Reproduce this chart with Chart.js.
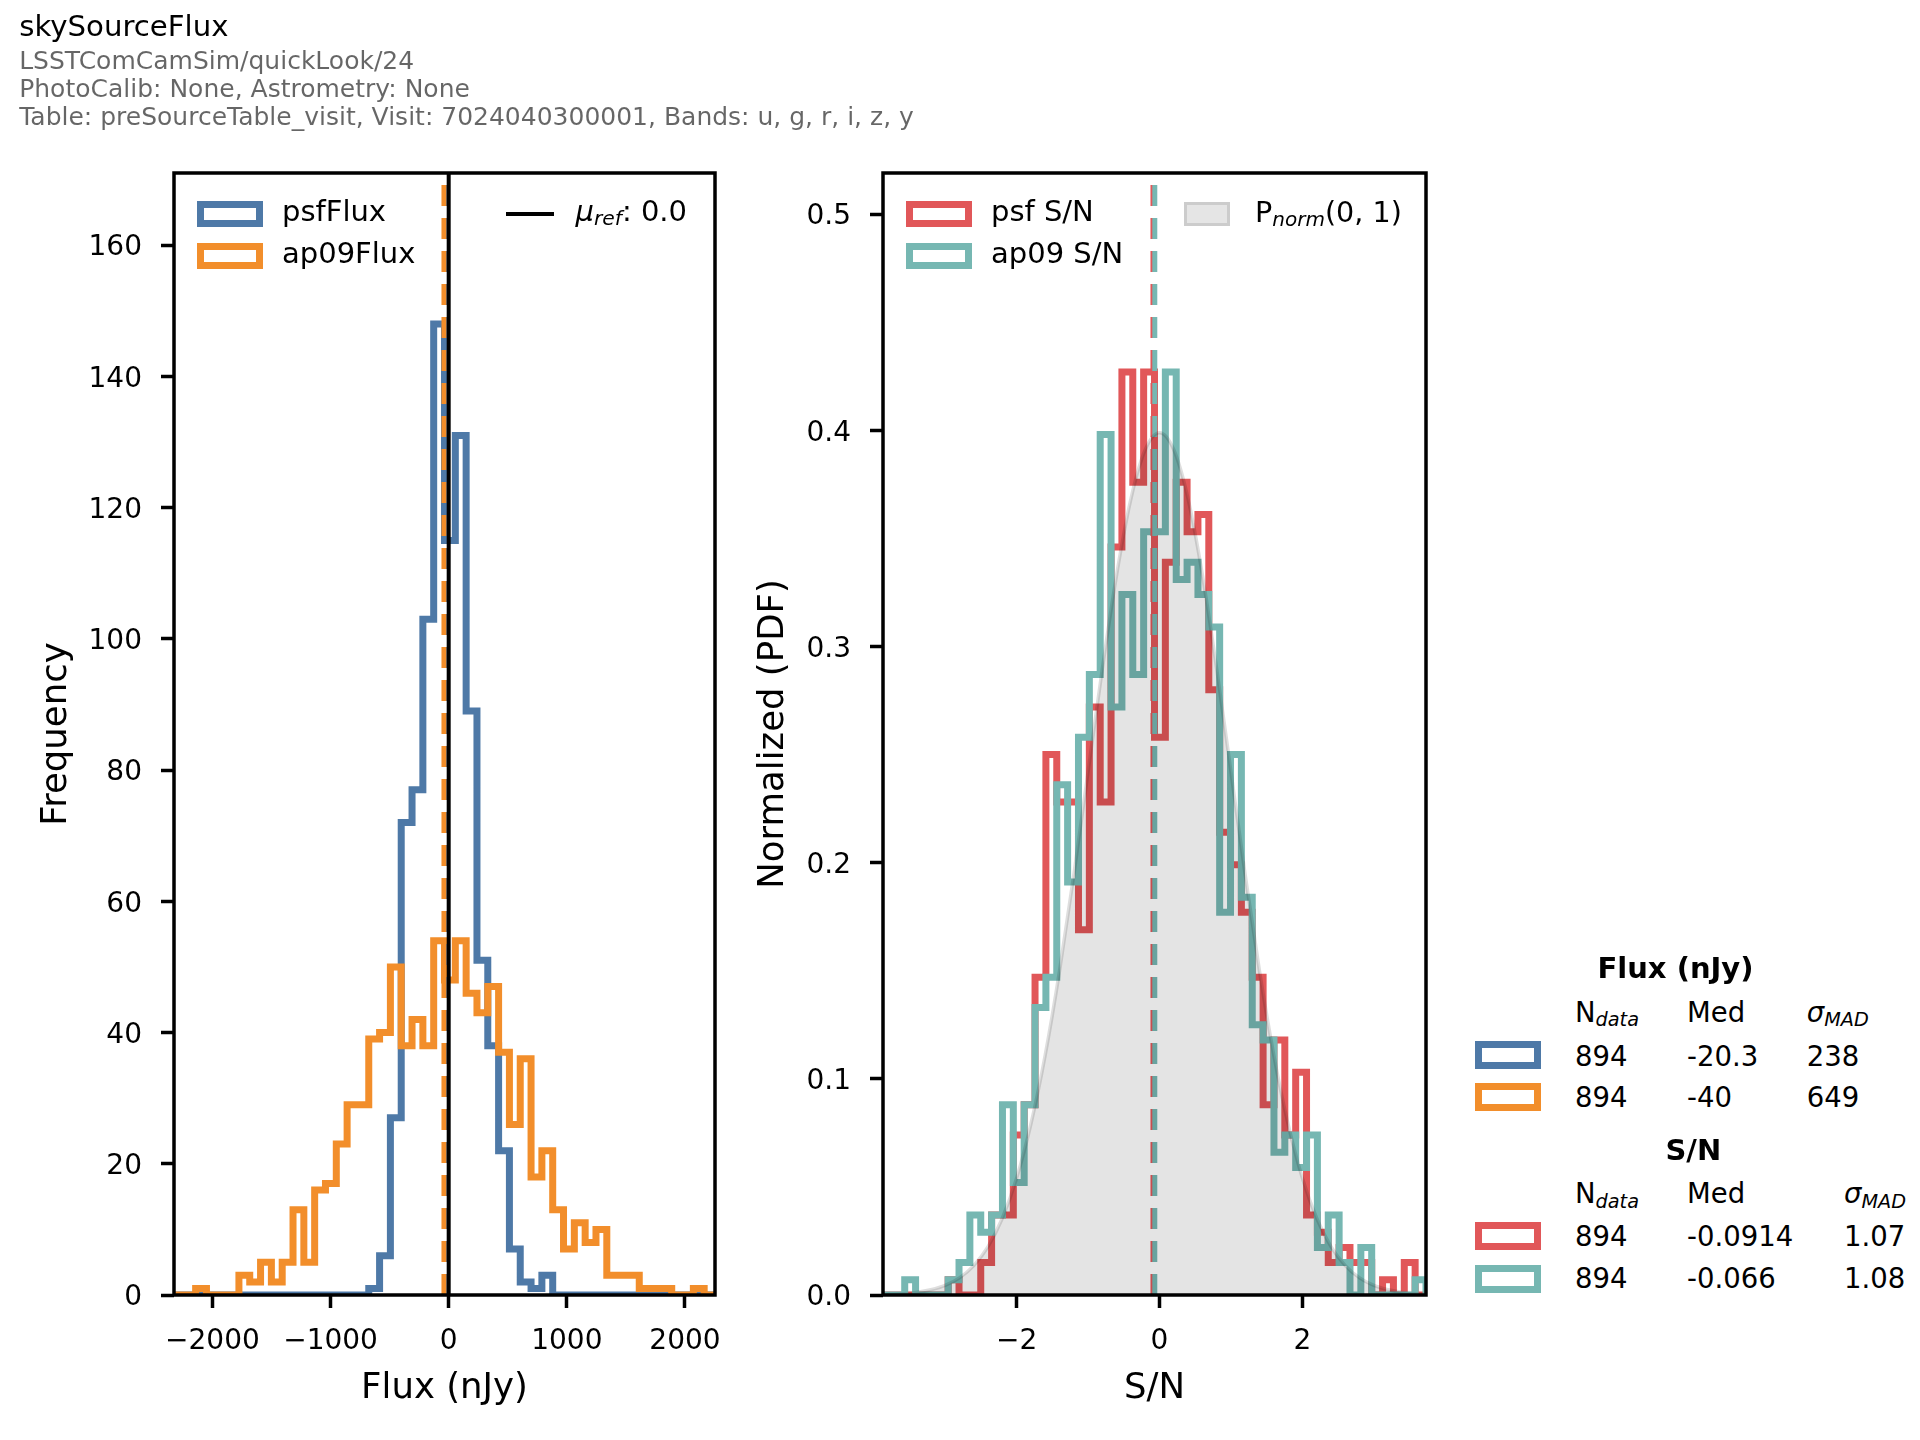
<!DOCTYPE html>
<html>
<head>
<meta charset="utf-8">
<script src="https://cdn.jsdelivr.net/npm/chart.js@4.4.1/dist/chart.umd.min.js"></script>
<style>
html,body{margin:0;padding:0;background:#fff;}
#page{position:relative;width:1920px;height:1440px;overflow:hidden;background:#fff;font-family:"DejaVu Sans",sans-serif;}
.cv{position:absolute;top:0;}
.t{position:absolute;white-space:nowrap;color:#000;font-family:"DejaVu Sans",sans-serif;z-index:5;}
.sw{position:absolute;box-sizing:border-box;background:#fff;z-index:5;}
.sub{font-size:0.7em;font-style:italic;position:relative;top:0.22em;}
.it{font-style:italic;}
</style>
</head>
<body>
<div id="page">
  <div class="cv" style="left:0;width:740px;height:1440px;"><canvas id="fluxCanvas" width="740" height="1440"></canvas></div>
  <div class="cv" style="left:730px;width:730px;height:1440px;"><canvas id="snCanvas" width="730" height="1440"></canvas></div>
</div>
<script>
// ---------------- data ----------------
const fluxRange = [-2325, 2254];          // nJy, histogram range = x axis range
const snRange = [-3.87, 3.73];            // S/N, histogram range = x axis range
const nBins = 50;

const psfFluxCounts = [0,0,0,0,0,0,0,0,0,0, 0,0,0,0,0,0,0,0,1,6, 27,72,77,103,148,115,131,89,51,38, 22,7,2,1,3,0,0,0,0,0, 0,0,0,0,0,0,0,0,0,0];
const ap09FluxCounts = [0,0,1,0,0,0,3,2,5,2, 5,13,5,16,17,23,29,29,39,40, 50,38,42,38,54,48,54,46,43,47, 37,26,36,18,22,13,7,11,8,10, 3,3,3,1,1,1,0,0,1,0];

const psfSNDensity = [0,0,0,0,0,0,0.007,0,0,0.015, 0.037,0.037,0.074,0.088,0.147,0.250,0.228,0.228,0.169,0.272, 0.228,0.346,0.427,0.376,0.427,0.258,0.339,0.376,0.353,0.361, 0.280,0.214,0.199,0.177,0.147,0.088,0.118,0.074,0.103,0.037, 0.029,0.015,0.022,0.015,0.015,0,0.007,0,0.015,0];
const ap09SNDensity = [0,0,0.007,0,0,0,0.007,0.015,0.037,0.029, 0.037,0.088,0.052,0.088,0.133,0.147,0.236,0.191,0.258,0.287, 0.398,0.272,0.324,0.287,0.353,0.353,0.427,0.331,0.339,0.324, 0.309,0.177,0.250,0.184,0.125,0.118,0.066,0.074,0.059,0.074, 0.022,0.037,0.015,0,0.022,0,0,0,0,0.007];

const fluxMedians = [-20.3, -40];         // psfFlux, ap09Flux
const fluxRef = 0.0;
const snMedians = [-0.0914, -0.066];      // psf S/N, ap09 S/N

const pnormX = [-3.87,-3.6,-3.4,-3.2,-3.0,-2.8,-2.6,-2.4,-2.2,-2.0,-1.8,-1.6,-1.4,-1.2,-1.0,-0.8,-0.6,-0.4,-0.2,0,0.2,0.4,0.6,0.8,1.0,1.2,1.4,1.6,1.8,2.0,2.2,2.4,2.6,2.8,3.0,3.2,3.4,3.6,3.73];
const pnormY = [0.0002,0.0006,0.0012,0.0024,0.0044,0.0079,0.0136,0.0224,0.0355,0.0540,0.0790,0.1109,0.1497,0.1942,0.2420,0.2897,0.3332,0.3683,0.3910,0.3989,0.3910,0.3683,0.3332,0.2897,0.2420,0.1942,0.1497,0.1109,0.0790,0.0540,0.0355,0.0224,0.0136,0.0079,0.0044,0.0024,0.0012,0.0006,0.0004];

const fluxXTicks = [-2000,-1000,0,1000,2000];
const fluxYTicks = [0,20,40,60,80,100,120,140,160];
const fluxYMax = 171;
const snXTicks = [-2,0,2];
const snYTicks = [0,0.1,0.2,0.3,0.4,0.5];
const snYMax = 0.519;

const statsFlux = [["894","-20.3","238"],["894","-40","649"]];
const statsSN = [["894","-0.0914","1.07"],["894","-0.066","1.08"]];

// ---------------- style ----------------
const C = {blue:'#4e79a7', orange:'#f28e2b', red:'#e15759', teal:'#76b7b2'};
const FONT = '"DejaVu Sans", sans-serif';
const HW = 7;   // histogram line width

function binEdges(range, n){ const w=(range[1]-range[0])/n; const e=[]; for(let i=0;i<=n;i++) e.push(range[0]+i*w); return e; }
function stepPoints(edges, vals){
  const p=[{x:edges[0],y:0}];
  for(let i=0;i<vals.length;i++){ p.push({x:edges[i],y:vals[i]}); p.push({x:edges[i+1],y:vals[i]}); }
  p.push({x:edges[edges.length-1],y:0});
  return p;
}
function vline(x, y0, y1){ return [{x:x,y:y0},{x:x,y:y1}]; }
const minus = v => (v<0 ? '\u2212'+Math.abs(v) : String(v));

const boxPlugin = {id:'box', afterDatasetsDraw(chart){
  const {ctx, chartArea:a} = chart; ctx.save(); ctx.strokeStyle='#000'; ctx.lineWidth=3.5;
  ctx.strokeRect(a.left, a.top, a.right-a.left, a.bottom-a.top); ctx.restore(); }};

function histDS(label, data, color, order){
  return {label, data, borderColor:color, borderWidth:HW, pointRadius:0, fill:false, tension:0,
          borderJoinStyle:'miter', borderCapStyle:'butt', clip:0, order};
}
function medDS(label, x, ymax, color, order){
  return {label, data:vline(x,0,ymax), borderColor:color, borderWidth:5, borderDash:[21,12], pointRadius:0, fill:false, clip:0, order};
}
function scaleX(min,max,ticks,title,fmt){
  return {type:'linear', min, max,
    afterFit(s){ s.height=145; },
    afterBuildTicks(s){ s.ticks = ticks.map(v=>({value:v})); },
    ticks:{callback:fmt, font:{family:FONT,size:28}, color:'#000', padding:16.5, maxRotation:0, autoSkip:false},
    grid:{drawOnChartArea:false, drawTicks:true, tickLength:13, tickWidth:3.5, tickColor:'#000'},
    border:{display:false},
    title:{display:true, text:title, font:{family:FONT,size:35.5}, color:'#000', padding:{top:0,bottom:30}}};
}
function scaleY(max,ticks,title,fmt,width,tpad){
  return {type:'linear', min:0, max,
    afterFit(s){ s.width=width; },
    afterBuildTicks(s){ s.ticks = ticks.map(v=>({value:v})); },
    ticks:{callback:fmt, font:{family:FONT,size:28}, color:'#000', padding:19, labelOffset:3, autoSkip:false},
    grid:{drawOnChartArea:false, drawTicks:true, tickLength:13, tickWidth:3.5, tickColor:'#000'},
    border:{display:false},
    title:{display:true, text:title, font:{family:FONT,size:35.5}, color:'#000', padding:{top:tpad,bottom:0}}};
}
const baseOpts = {responsive:false, maintainAspectRatio:false, animation:false, devicePixelRatio:1, events:[],
  plugins:{legend:{display:false}, tooltip:{enabled:false}}};

// ---------------- flux histogram ----------------
const fEdges = binEdges(fluxRange, nBins);
new Chart(document.getElementById('fluxCanvas'), {
  type:'line',
  data:{datasets:[
    histDS('psfFlux', stepPoints(fEdges, psfFluxCounts), C.blue, 10),
    histDS('ap09Flux', stepPoints(fEdges, ap09FluxCounts), C.orange, 9),
    medDS('psfFlux median', fluxMedians[0], fluxYMax, C.blue, 8),
    medDS('ap09Flux median', fluxMedians[1], fluxYMax, C.orange, 7),
    {label:'mu_ref', data:vline(fluxRef,0,fluxYMax), borderColor:'#000', borderWidth:4, pointRadius:0, fill:false, clip:0, order:6}
  ]},
  options:Object.assign({}, baseOpts, {
    layout:{padding:{left:0, top:173, right:25, bottom:0}},
    scales:{
      x: scaleX(fluxRange[0], fluxRange[1], fluxXTicks, 'Flux (nJy)', v=>minus(v)),
      y: scaleY(fluxYMax, fluxYTicks, 'Frequency', v=>String(v), 174, 35)
    }}),
  plugins:[boxPlugin]
});

// ---------------- S/N histogram ----------------
const sEdges = binEdges(snRange, nBins);
const pnormPts = pnormX.map((x,i)=>({x, y:pnormY[i]}));
new Chart(document.getElementById('snCanvas'), {
  type:'line',
  data:{datasets:[
    histDS('psf S/N', stepPoints(sEdges, psfSNDensity), C.red, 10),
    histDS('ap09 S/N', stepPoints(sEdges, ap09SNDensity), C.teal, 9),
    medDS('psf S/N median', snMedians[0], snYMax, C.red, 8),
    medDS('ap09 S/N median', snMedians[1], snYMax, C.teal, 7),
    {label:'Pnorm(0,1)', data:pnormPts, borderColor:'rgba(0,0,0,0.13)', borderWidth:3.5,
     backgroundColor:'rgba(0,0,0,0.105)', fill:'origin', cubicInterpolationMode:'monotone', pointRadius:0, clip:0, order:6}
  ]},
  options:Object.assign({}, baseOpts, {
    layout:{padding:{left:0, top:173, right:34, bottom:0}},
    scales:{
      x: scaleX(snRange[0], snRange[1], snXTicks, 'S/N', v=>minus(v)),
      y: scaleY(snYMax, snYTicks, 'Normalized (PDF)', v=>v.toFixed(1), 153, 22.7)
    }}),
  plugins:[boxPlugin]
});

// ---------------- text overlays (titles, legends, stats table) ----------------
const page = document.getElementById('page');
function text(html, x, baseline, size, opt){
  opt = opt||{};
  const d = document.createElement('div'); d.className='t'; d.innerHTML = html;
  const L = Math.round(size*1.2);
  d.style.fontSize = size+'px'; d.style.lineHeight = L+'px';
  d.style.top = (baseline - (L/2 + 0.346*size)).toFixed(1)+'px';
  if (opt.color) d.style.color = opt.color;
  if (opt.bold) d.style.fontWeight = 'bold';
  if (opt.center){ d.style.left=(x-300)+'px'; d.style.width='600px'; d.style.textAlign='center'; }
  else d.style.left = x+'px';
  page.appendChild(d); return d;
}
function swatch(x, y, w, h, color, bw, fill){
  const d = document.createElement('div'); d.className='sw';
  d.style.left=x+'px'; d.style.top=y+'px'; d.style.width=w+'px'; d.style.height=h+'px';
  d.style.border = bw+'px solid '+color; if (fill) d.style.background = fill;
  page.appendChild(d); return d;
}

// header
text('skySourceFlux', 19.2, 36.4, 29.2);
const infoLines = ['LSSTComCamSim/quickLook/24','PhotoCalib: None, Astrometry: None','Table: preSourceTable_visit, Visit: 7024040300001, Bands: u, g, r, i, z, y'];
[69.5, 97.6, 125.7].forEach((b,i)=>text(infoLines[i], 19.2, b, 25, {color:'rgba(0,0,0,0.6)'}));

// left legend
const LR1 = 221.5, LR2 = 263.1;
swatch(196.5, 201, 66, 26, C.blue, HW);
swatch(196.5, 242.6, 66, 26, C.orange, HW);
text('psfFlux', 282, LR1, 29);
text('ap09Flux', 282, LR2, 29);
const refLine = document.createElement('div'); refLine.className='sw';
Object.assign(refLine.style,{left:'506px', top:'211.8px', width:'48px', height:'4.2px', background:'#000'});
page.appendChild(refLine);
text('<span class="it">\u03bc</span><span class="sub">ref</span>: 0.0', 575.5, LR1, 29);

// right legend
swatch(905.5, 201, 66, 26, C.red, HW);
swatch(905.5, 242.6, 66, 26, C.teal, HW);
text('psf S/N', 991, LR1, 29);
text('ap09 S/N', 991, LR2, 29);
swatch(1184, 202, 46, 24, '#cccccc', 3, '#e5e5e5');
text('P<span class="sub">norm</span>(0, 1)', 1255, LR1, 28.6);

// stats table
const colX = [1575, 1687, 1806.7];
const colX2 = [1575, 1687, 1844];
text('Flux (nJy)', 1675.5, 978.3, 29, {center:true, bold:true});
text('N<span class="sub">data</span>', colX[0], 1021.7, 27.5);
text('Med', colX[1], 1021.7, 27.5);
text('<span class="it">\u03c3</span><span class="sub">MAD</span>', colX[2], 1021.7, 27.5);
[[1065.7,1041,C.blue],[1106.7,1083.2,C.orange]].forEach((r,i)=>{
  swatch(1475, r[1], 66, 28, r[2], HW);
  statsFlux[i].forEach((s,j)=>text(s, colX[j], r[0], 27.5));
});
text('S/N', 1693.3, 1160.7, 29, {center:true, bold:true});
text('N<span class="sub">data</span>', colX2[0], 1203.3, 27.5);
text('Med', colX2[1], 1203.3, 27.5);
text('<span class="it">\u03c3</span><span class="sub">MAD</span>', colX2[2], 1203.3, 27.5);
[[1246,1222.2,C.red],[1288.3,1264.9,C.teal]].forEach((r,i)=>{
  swatch(1475, r[1], 66, 28, r[2], HW);
  statsSN[i].forEach((s,j)=>text(s, colX2[j], r[0], 27.5));
});
</script>
</body>
</html>
